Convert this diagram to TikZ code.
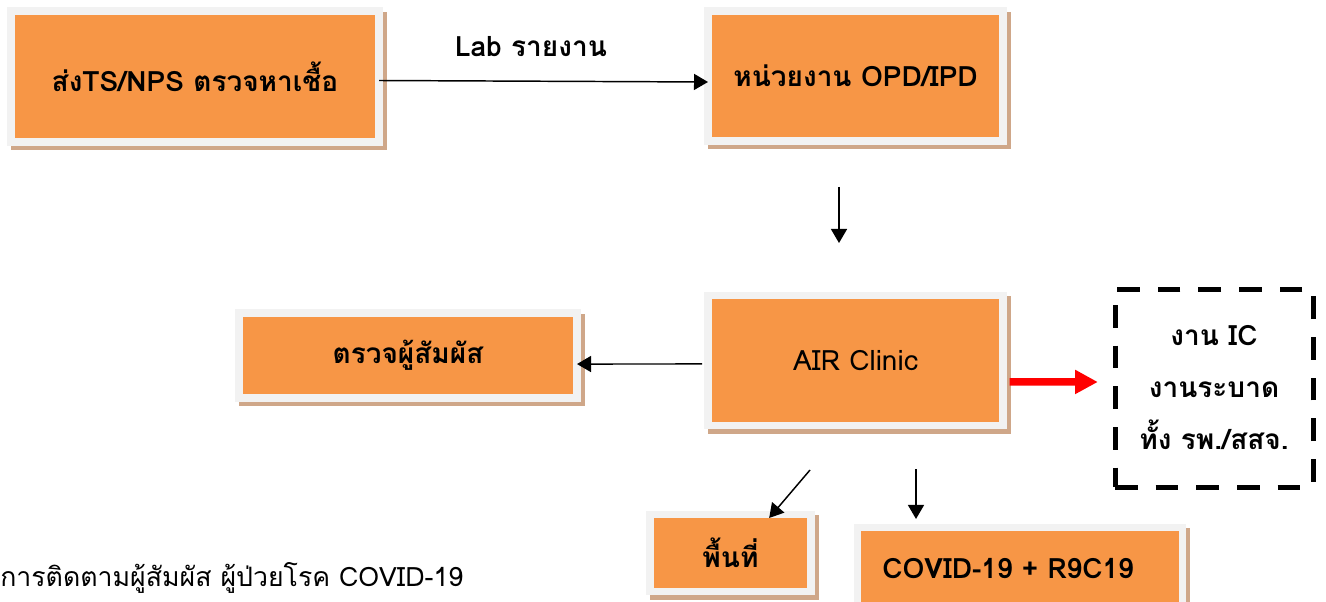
\documentclass[tikz,border=0pt]{standalone}
\usepackage{fontspec}
\newfontfamily\thaifont[Script=Thai]{Loma}
\usetikzlibrary{arrows.meta}

\definecolor{boxorange}{HTML}{F79646}
\definecolor{boxframe}{HTML}{F2F2F2}
\definecolor{boxshadow}{HTML}{CFA789}

\begin{document}
\begin{tikzpicture}[x=0.75pt, y=-0.75pt,
	every node/.style={text centered, font=\thaifont\fontsize{21}{26}\selectfont},
	bold/.style={font=\thaifont\bfseries\fontsize{21}{26}\selectfont},
	orangebox/.style={draw=boxframe, fill=boxorange, line width=5.6pt, inner sep=0pt, outer sep=0pt,
		preaction={draw=boxshadow, fill=boxshadow, line width=5.6pt, transform canvas={shift={(3pt,-3.5pt)}}}},
	arrow/.style={-{Triangle[length=10.5pt, width=12pt]}, line width=1.1pt}]

	\useasboundingbox (0,0) rectangle (1326,602);

		\draw (195, 76.5)	node[orangebox, bold, minimum width=276pt, minimum height=98.25pt] (send)
				{ส่งTS/NPS ตรวจหาเชื้อ}

			(855.5, 76)	node[orangebox, bold, minimum width=221.25pt, minimum height=97.5pt] (opd)
				{หน่วยงาน OPD/IPD}

			(531, 47)	node[bold] (lab) {Lab รายงาน}



			(855.5, 360.5)	node[orangebox, minimum width=221.25pt, minimum height=97.5pt] (air)
				{AIR Clinic}

			(408, 355.5)	node[orangebox, bold, minimum width=253.5pt, minimum height=63.75pt] (contact)
				{ตรวจผู้สัมผัส}

			(1214, 388)	node[draw, line width=3.75pt, dash pattern=on 17pt off 13.5pt,%
, minimum width=148.5pt, minimum height=148.5pt, align=center, bold, font=\thaifont\bfseries\fontsize{21}{39}\selectfont] (ic)
				{งาน IC\\งานระบาด\\ทั้ง รพ./สสจ.}



			(730.5, 553)	node[orangebox, bold, minimum width=120.75pt, minimum height=57.75pt] (area)
				{พื้นที่}

			(1020, 568.5)	node[orangebox, bold, minimum height=61.5pt, inner xsep=18.75pt, text width=206.5pt, align=left] (covid)
				{COVID-19 + R9C19}

			(0, 578)	node[anchor=west, inner xsep=0pt, font=\thaifont\fontsize{20}{24}\selectfont] (caption)
				{การติดตามผู้สัมผัส ผู้ป่วยโรค COVID-19}
;

	\coordinate (opddown) at (839, 187);
	\coordinate (airdiag) at (810, 470);
	\coordinate (airdown) at (916, 469);

	\draw[arrow] ([yshift=-3pt]send.east) -- ([yshift=-4.5pt]opd.west);
	\draw[arrow] (opddown) -- ++(0, 56);%(opd) -- (air);
	\draw[arrow] ([xshift=-4.5pt, yshift=-2.6pt]air.west) -- ([yshift=-6.4pt]contact.east);
	\draw[-{Triangle[length=17pt, width=17pt]}, line width=5.6pt, red]
		([xshift=5pt, yshift=-16pt]air.east) -- ([xshift=-11pt, yshift=4.5pt]ic.west);
	\draw[arrow] (airdiag) -- ([xshift=29pt, yshift=-2.6pt]area.north);
	\draw[arrow] (airdown) -- ([xshift=-78pt, yshift=6.4pt]covid.north);
\end{tikzpicture}
\end{document}
